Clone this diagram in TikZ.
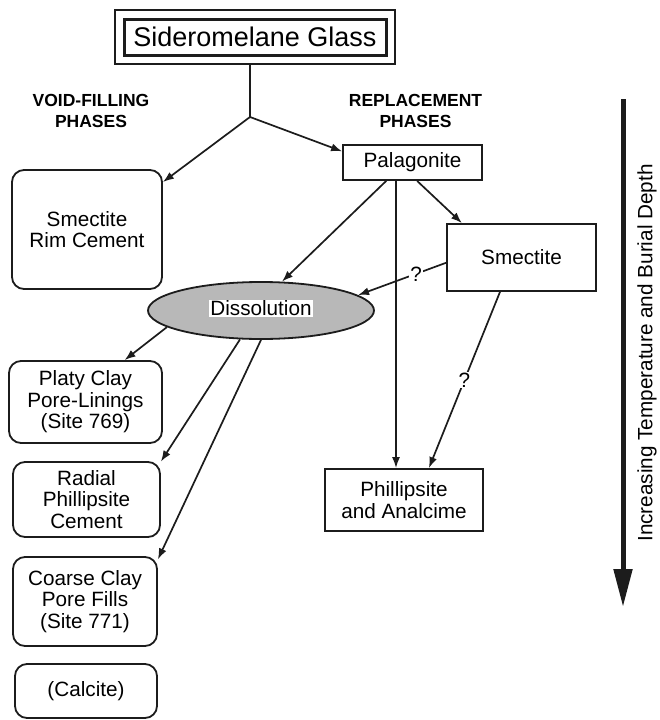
\documentclass[tikz,border=0pt]{standalone}
\usepackage{fontspec}
\setmainfont{Liberation Sans}
\usepackage{tikz}
\usetikzlibrary{arrows.meta,fit,shapes.geometric}
\definecolor{figink}{HTML}{1C1C1C}
\definecolor{dissolgray}{HTML}{B8B8B8}
\tikzset{
  phasebox/.style={
    draw=figink,
    line width=1.8pt,
    align=center,
    inner sep=0pt,
    font=\fontsize{20.7}{21.5}\selectfont
  },
  voidbox/.style={
    phasebox,
    rounded corners=12pt
  },
  headlabel/.style={
    align=center,
    font=\bfseries\fontsize{17.5}{20.5}\selectfont
  },
  flowarrow/.style={
    -{Latex[length=11pt,width=8pt]},
    line width=1.7pt,
    draw=figink
  },
  qmark/.style={
    fill=white,
    inner sep=1pt,
    font=\fontsize{20.7}{21.5}\selectfont
  },
  deptharrow/.style={
    -{Triangle[length=38pt,width=18pt]},
    line width=5pt,
    draw=figink
  }
}

\begin{document}
\begin{tikzpicture}[x=1pt, y=-1pt]
  \fill[white] (0,0) rectangle (659,720);
  \useasboundingbox (0,0) rectangle (659,720);

  % source
  \node[phasebox, line width=3pt, minimum width=262pt, minimum height=36pt,
        font=\fontsize{27}{30}\selectfont] (glass) at (255,37) {Sideromelane Glass};
  \node[draw=figink, line width=2pt, inner sep=7.5pt, fit=(glass)] (glassframe) {};

  \node[headlabel] (voidlbl) at (91,111) {VOID-FILLING\\PHASES};
  \node[headlabel] (repllbl) at (415.5,111) {REPLACEMENT\\PHASES};

  % void-filling column
  \node[voidbox, minimum width=150pt, minimum height=119pt] (rimcem) at (87,229.5) {Smectite\\Rim Cement};
  \node[voidbox, minimum width=153pt, minimum height=82pt] (platy) at (85.5,402) {Platy Clay\\Pore-Linings\\(Site 769)};
  \node[voidbox, minimum width=147pt, minimum height=75pt] (radial) at (86.5,499.5) {Radial\\Phillipsite\\Cement};
  \node[voidbox, minimum width=144pt, minimum height=89pt] (coarse) at (85,601.5) {Coarse Clay\\Pore Fills\\(Site 771)};
  \node[voidbox, minimum width=142pt, minimum height=54pt] (calc) at (86,691) {(Calcite)};

  % replacement column
  \node[phasebox, minimum width=139pt, minimum height=35pt] (palag) at (412.5,162.5) {Palagonite};
  \node[phasebox, minimum width=149pt, minimum height=67pt] (smec) at (521.5,257.5) {Smectite};
  \node[phasebox, minimum width=158pt, minimum height=62pt] (phil) at (404,500) {Phillipsite\\and Analcime};

  \node[ellipse, draw=figink, line width=1.8pt, fill=dissolgray, inner sep=0pt,
        minimum width=226pt, minimum height=57pt] (dissol) at (261,310.5) {};
  \node[qmark] (dissollbl) at ([yshift=2pt]dissol.center) {Dissolution};

  % connectors
  \coordinate (fork) at (250,117);
  \draw[line width=1.7pt, draw=figink] (fork |- glassframe.south) -- (fork);
  \draw[flowarrow] (fork) -- (rimcem.32);
  \draw[flowarrow] (fork) -- (palag.171);

  \draw[flowarrow] (palag.-76) -- (smec.150);
  \draw[flowarrow] (palag.215) -- (dissol.54);
  \draw[flowarrow] ([xshift=-16.5pt]palag.south) -- ([xshift=-8pt]phil.north);
  \draw[flowarrow] (smec.184) -- node[qmark, pos=0.34] {?} (dissol.9);
  \draw[flowarrow] (smec.238) -- node[qmark, pos=0.5] {?} (phil.52);

  \draw[flowarrow] (dissol.190) -- (platy.47.5);
  \draw[flowarrow] (dissol.234) -- (radial.27);
  \draw[flowarrow] (dissol.south) -- (coarse.30);

  % depth axis
  \coordinate (depthtop) at (623,99);
  \coordinate (depthbot) at (623,607);
  \draw[deptharrow] (depthtop) -- (depthbot);
  \node[rotate=90, font=\fontsize{20.7}{21.5}\selectfont] (depthlbl) at (647,353)
    {Increasing Temperature and Burial Depth};
\end{tikzpicture}
\end{document}
